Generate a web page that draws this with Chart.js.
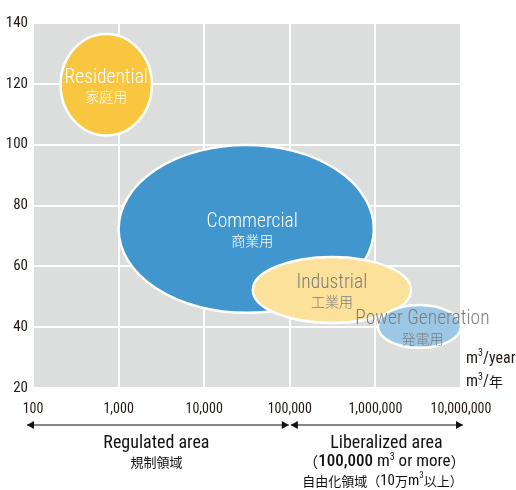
<!DOCTYPE html>
<html><head><meta charset="utf-8">
<script src="https://cdn.jsdelivr.net/npm/chart.js@4"></script>
<style>html,body{margin:0;padding:0;background:#fff}#wrap{width:516px;height:490px;position:relative}</style>
</head><body><div id="wrap"><canvas id="c" width="516" height="490"></canvas></div>
<script>
const categories = ['Residential', 'Commercial', 'Industrial', 'Power Generation'];
const categoriesJa = ['家庭用', '商業用', '工業用', '発電用'];
// annual consumption range (m3/year), horizontal extent of each ellipse
const volumeLow  = [210, 1000, 37000, 1070000];
const volumeHigh = [2450, 960000, 2600000, 10000000];
// vertical extent (y-axis values)
const valueLow  = [103, 44.7, 41.4, 33.2];
const valueHigh = [136.4, 99.9, 63.1, 47.3];
const xTicks = [100, 1000, 10000, 100000, 1000000, 10000000];
const yTicks = [20, 40, 60, 80, 100, 120, 140];
const fills = ['#F9C640', '#4096CD', '#FBE19A', '#9DC8E5'];
const textColors = ['#ffffff', '#ffffff', '#7d7d7d', '#7d7d7d'];

const NARROW = '"Roboto Condensed", sans-serif';
const CJK = '"Noto Sans CJK JP", sans-serif';

const points = categories.map((c, i) => ({
  x: Math.sqrt(volumeLow[i] * volumeHigh[i]),
  y: (valueLow[i] + valueHigh[i]) / 2
}));

const bgPlugin = {
  id: 'bg',
  beforeDraw(chart) {
    const {ctx, chartArea: a} = chart;
    ctx.save();
    ctx.fillStyle = '#DCDDDD';
    ctx.fillRect(a.left, a.top, a.right - a.left, a.bottom - a.top);
    ctx.restore();
  }
};

const ellipsePlugin = {
  id: 'ellipses',
  afterDatasetsDraw(chart) {
    const {ctx} = chart;
    const xs = chart.scales.x, ys = chart.scales.y;
    const meta = chart.getDatasetMeta(0);
    ctx.save();
    meta.data.forEach((el, i) => {
      const x1 = xs.getPixelForValue(volumeLow[i]), x2 = xs.getPixelForValue(volumeHigh[i]);
      const y1 = ys.getPixelForValue(valueHigh[i]), y2 = ys.getPixelForValue(valueLow[i]);
      ctx.beginPath();
      ctx.ellipse(el.x, el.y, (x2 - x1) / 2, (y2 - y1) / 2, 0, 0, Math.PI * 2);
      ctx.fillStyle = fills[i];
      ctx.fill();
      ctx.lineWidth = 2.5;
      ctx.strokeStyle = '#ffffff';
      ctx.stroke();
    });
    meta.data.forEach((el, i) => {
      ctx.fillStyle = textColors[i];
      ctx.textAlign = 'center';
      ctx.textBaseline = 'middle';
      ctx.font = '300 19.5px ' + NARROW;
      const dx = i === 3 ? 3 : (i === 1 ? 6 : 0);
      ctx.fillText(categories[i], el.x + dx, el.y - 7);
      ctx.font = '300 14px ' + CJK;
      ctx.fillText(categoriesJa[i], el.x + dx, el.y + 12);
    });
    ctx.restore();
  }
};

function arrow(ctx, x1, x2, y) {
  ctx.beginPath();
  ctx.moveTo(x1, y); ctx.lineTo(x2, y);
  ctx.lineWidth = 1.2; ctx.strokeStyle = '#111'; ctx.stroke();
  const h = 7, w = 4;
  ctx.fillStyle = '#111';
  ctx.beginPath(); ctx.moveTo(x1, y); ctx.lineTo(x1 + h, y - w); ctx.lineTo(x1 + h, y + w); ctx.closePath(); ctx.fill();
  ctx.beginPath(); ctx.moveTo(x2, y); ctx.lineTo(x2 - h, y - w); ctx.lineTo(x2 - h, y + w); ctx.closePath(); ctx.fill();
}

function runs(ctx, parts, cx, y, leftAlign) {
  let total = 0;
  parts.forEach(p => { ctx.font = p.f; p.w = ctx.measureText(p.t).width; total += p.w; });
  let x = leftAlign ? cx : cx - total / 2;
  ctx.textAlign = 'left';
  parts.forEach(p => { ctx.font = p.f; ctx.fillText(p.t, x, y + (p.dy || 0)); x += p.w; });
}

const annoPlugin = {
  id: 'anno',
  afterDraw(chart) {
    const {ctx} = chart;
    const xs = chart.scales.x, ys = chart.scales.y;
    ctx.save();
    ctx.fillStyle = '#231815';
    ctx.textBaseline = 'middle';
    // units
    const ux = chart.chartArea.right + 5;
    runs(ctx, [{t: 'm', f: '16px ' + NARROW}, {t: '3', f: '10px ' + NARROW, dy: -5}, {t: '/year', f: '16px ' + NARROW}], ux, ys.getPixelForValue(30) + 1, true);
    runs(ctx, [{t: 'm', f: '16px ' + NARROW}, {t: '3', f: '10px ' + NARROW, dy: -5}, {t: '/', f: '16px ' + NARROW}, {t: '年', f: '14px ' + CJK}], ux, ys.getPixelForValue(20) - 6, true);
    // arrows
    const ay = 425;
    const xL = xs.getPixelForValue(100) - 6;
    const xM = xs.getPixelForValue(100000);
    const xR = xs.getPixelForValue(10000000) + 2;
    arrow(ctx, xL, xM - 1, ay);
    arrow(ctx, xM + 1, xR, ay);
    // labels
    ctx.textAlign = 'center';
    const cL = (xL + xM) / 2 - 2, cR = (xM + xR) / 2 + 10;
    ctx.font = '18px ' + NARROW;
    ctx.fillText('Regulated area', cL, 443);
    ctx.fillText('Liberalized area', cR, 443);
    ctx.font = '13px ' + CJK;
    ctx.fillText('規制領域', cL, 462);
    runs(ctx, [
      {t: '（', f: '15px ' + CJK},
      {t: '100,000', f: '500 17px ' + NARROW},
      {t: ' m', f: '17px ' + NARROW},
      {t: '3', f: '10px ' + NARROW, dy: -5},
      {t: ' or more', f: '17px ' + NARROW},
      {t: '）', f: '15px ' + CJK}
    ], cR - 2, 462);
    runs(ctx, [
      {t: '自由化領域（', f: '13px ' + CJK},
      {t: '10', f: '15px ' + NARROW},
      {t: '万', f: '13px ' + CJK},
      {t: 'm', f: '15px ' + NARROW},
      {t: '3', f: '9px ' + NARROW, dy: -5},
      {t: '以上）', f: '13px ' + CJK}
    ], cR - 4, 481);
    ctx.restore();
  }
};

new Chart(document.getElementById('c'), {
  type: 'bubble',
  data: {
    datasets: [{
      data: points,
      radius: 0,
      hoverRadius: 0,
      backgroundColor: 'rgba(0,0,0,0)',
      borderColor: 'rgba(0,0,0,0)'
    }]
  },
  options: {
    responsive: false,
    animation: false,
    events: [],
    layout: {padding: {top: 23, right: 55, left: 0, bottom: 0}},
    plugins: {legend: {display: false}, tooltip: {enabled: false}},
    scales: {
      x: {
        type: 'logarithmic',
        min: xTicks[0], max: xTicks[xTicks.length - 1],
        afterBuildTicks(s) { s.ticks = xTicks.map(v => ({value: v})); },
        afterFit(s) { s.height = 102; },
        border: {display: false},
        grid: {color: '#ffffff', lineWidth: 2, drawTicks: false},
        ticks: {
          padding: 13, maxRotation: 0, autoSkip: false,
          color: '#231815',
          font: {family: NARROW, size: 14},
          callback: v => Number(v).toLocaleString('en-US')
        }
      },
      y: {
        type: 'linear',
        min: yTicks[0], max: yTicks[yTicks.length - 1],
        afterBuildTicks(s) { s.ticks = yTicks.map(v => ({value: v})); },
        afterFit(s) { s.width = 33; },
        border: {display: false},
        grid: {color: '#ffffff', lineWidth: 2, drawTicks: false},
        ticks: {
          padding: 5,
          color: '#231815',
          font: {family: NARROW, size: 15}
        }
      }
    }
  },
  plugins: [bgPlugin, ellipsePlugin, annoPlugin]
});
</script></body></html>
